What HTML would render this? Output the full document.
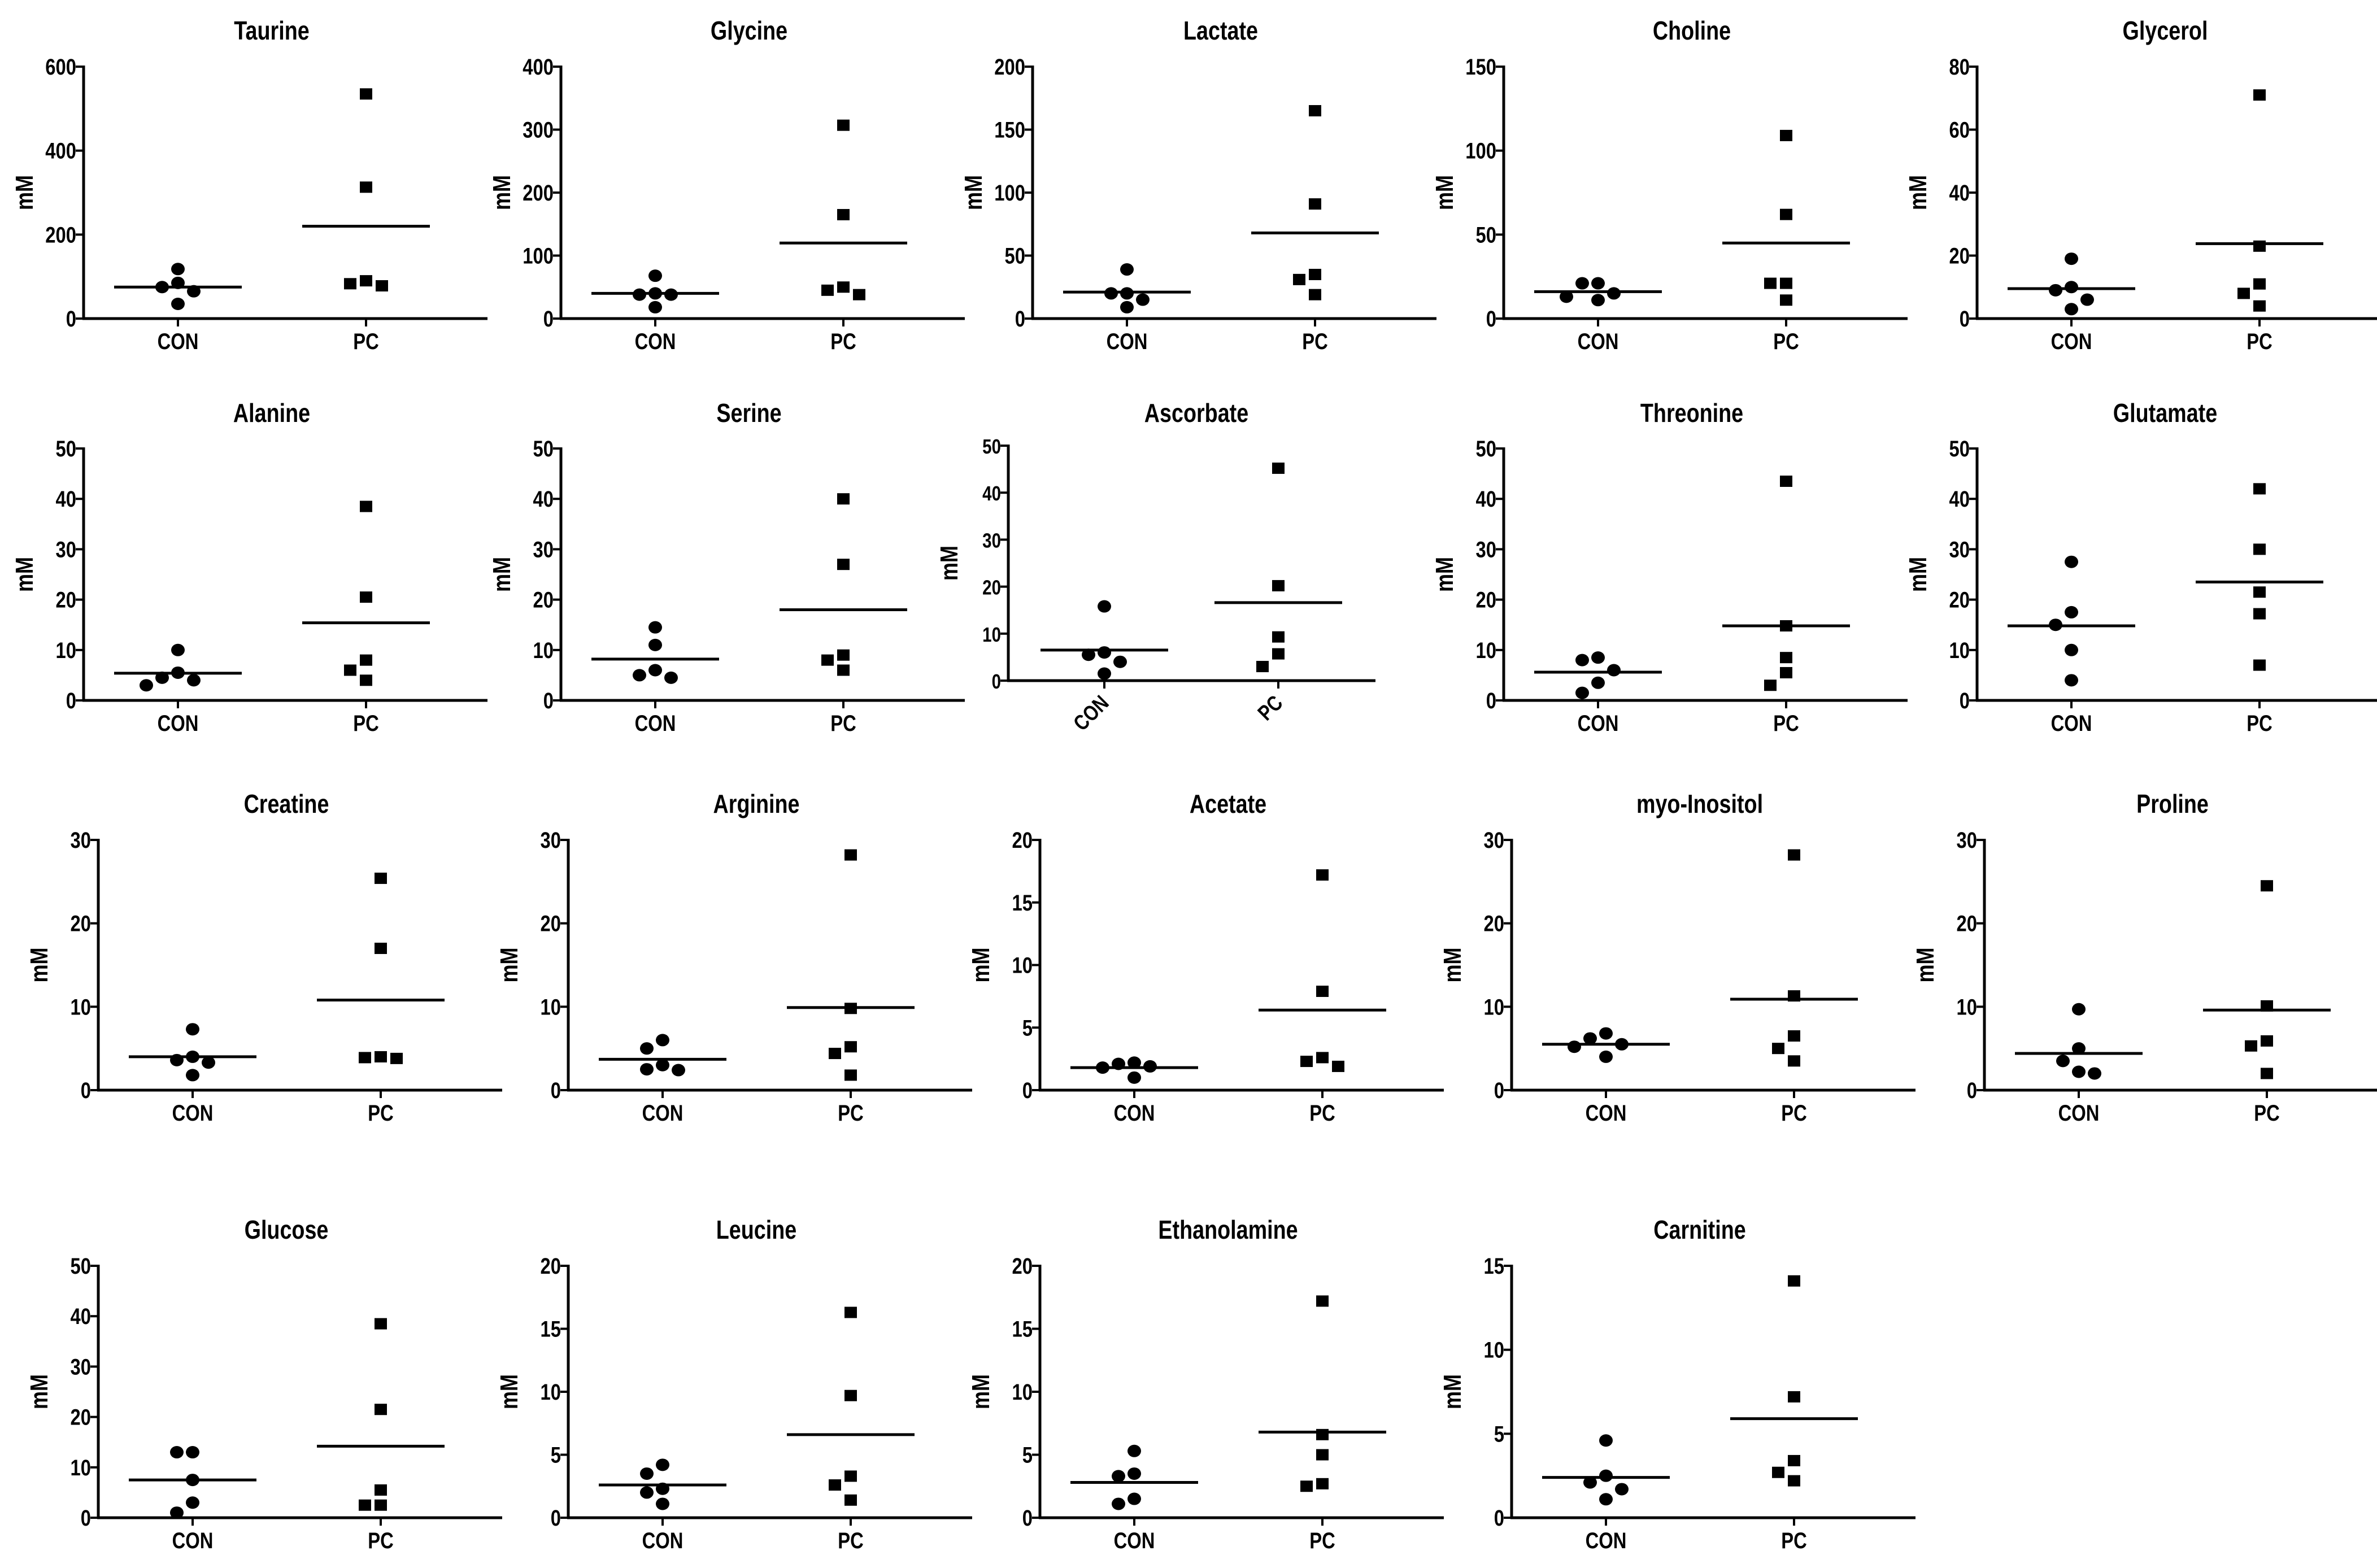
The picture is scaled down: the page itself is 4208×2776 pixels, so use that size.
<!DOCTYPE html>
<html><head><meta charset="utf-8"><style>
html,body{margin:0;padding:0;background:#fff;}
svg{display:block;font-family:"Liberation Sans",sans-serif;font-weight:bold;}
</style></head><body>
<svg id="fig" width="4208" height="2776" viewBox="0 0 4208 2776"></svg>
<script>
const titles=["Taurine","Glycine","Lactate","Choline","Glycerol","Alanine","Serine","Ascorbate","Threonine","Glutamate","Creatine","Arginine","Acetate","myo-Inositol","Proline","Glucose","Leucine","Ethanolamine","Carnitine"];
const yMax=[600,400,200,150,80,50,50,50,50,50,30,30,20,30,30,50,20,20,15];
const yStep=[200,100,50,50,20,10,10,10,10,10,10,10,5,10,10,10,5,5,5];
const groups=["CON","PC"];
const conValues=[[118,85,75,65,35],[68,38,38,40,18],[39,20,15,20,9],[21,21,15,11,13],[19,10,9,6,3],
[10,5.5,4,4.5,3],[14.5,11,6,5,4.5],[15.8,6,5.5,4,1.5],[8.5,8,6,3.5,1.5],[27.5,17.5,15,10,4],
[7.3,4,3.6,3.3,1.8],[6,5,3,2.4,2.5],[2.2,2.1,1.8,1.9,1],[6.8,6.2,5.5,5.2,4],[9.7,5,3.5,2.2,2],
[13,13,7.5,3,1],[4.2,3.5,2.3,2,1.1],[5.3,3.5,3.3,1.5,1.1],[4.6,2.5,2.1,1.7,1.1]];
const pcValues=[[535,313,90,78,83],[307,165,50,38,45],[165,91,35,31,19],[109,62,21,21,11],[71,23,11,8,4],
[38.5,20.5,8,6,4],[40,27,9,8,6],[45.2,20.2,9.3,5.7,3],[43.5,14.8,8.5,5.5,3],[42,30,21.5,17.2,7],
[25.4,17,4,3.8,3.9],[28.2,9.8,5.2,4.4,1.8],[17.2,7.9,2.6,2.3,1.9],[28.2,11.3,6.5,5,3.5],[24.5,10.1,5.9,5.3,2],
[38.5,21.5,5.5,2.5,2.5],[16.3,9.7,3.3,2.6,1.4],[17.2,6.6,5,2.7,2.5],[14.1,7.2,3.4,2.7,2.2]];
const conMeans=[75,40,21,16,9.5,5.4,8.2,6.5,5.6,14.8,4,3.7,1.8,5.5,4.4,7.5,2.6,2.8,2.4];
const pcMeans=[220,120,68,45,23.8,15.4,18,16.6,14.8,23.5,10.8,9.9,6.4,10.9,9.6,14.2,6.6,6.8,5.9];

const NS="http://www.w3.org/2000/svg";
const svg=document.getElementById('fig');
const SX=0.82;
function mk(tag,attrs,parent){const e=document.createElementNS(NS,tag);for(const k in attrs)e.setAttribute(k,attrs[k]);(parent||svg).appendChild(e);return e;}
function txt(parent,x,y,str,size,anchor,rot){
  const t=mk('text',{transform:`translate(${x},${y})`+(rot?` rotate(${rot})`:'')+` scale(${SX},1)`,'text-anchor':anchor,'font-size':size},parent);
  t.textContent=str;return t;
}
const rowTop=[118,794,1487,2241],rowZero=[564,1240,1930,2687];
const colX12=[148,993,1828,2662,3500],colX34=[174,1006,1841,2676,3513];
const titleY=[70,747,1439,2193];

titles.forEach((t,i)=>{
  const row=Math.floor(i/5),col=i%5;
  let ax=(row<2?colX12:colX34)[col],top=rowTop[row],zero=rowZero[row];
  let len=715,conOff=167,pcOff=500,asc=false;
  if(t==="Ascorbate"){ax=1785;top=789;zero=1205;len=650;conOff=170;pcOff=478;asc=true;}
  const g=mk('g',{});
  
  
  const ys=v=>zero-(v/yMax[i])*(zero-top);
  const xs=k=>ax+(k===0?conOff:pcOff);
  const title=txt(g,ax+333,titleY[row],t,46,'middle');
  
  
  const yl=txt(g,ax-90,(top+zero)/2,"mM",44,'middle',-90);
  
  
  const yAx=mk('line',{x1:ax,y1:top-2,x2:ax,y2:zero+2,stroke:'#000','stroke-width':5},g);
  
  
  const xAx=mk('line',{x1:ax-2,y1:zero,x2:ax+len,y2:zero,stroke:'#000','stroke-width':5},g);
  
  
  for(let v=0;v<=yMax[i]+1e-9;v+=yStep[i]){
    const y=ys(v);
    const tk=mk('line',{x1:ax-14,y1:y,x2:ax,y2:y,stroke:'#000','stroke-width':4},g);
    
    
    const tl=txt(g,ax-13,y+14,String(v),asc?36:40,'end');
    
    
  }
  groups.forEach((gn,k)=>{
    const x=xs(k);
    const tk=mk('line',{x1:x,y1:zero,x2:x,y2:zero+14,stroke:'#000','stroke-width':4},g);
    
    
    let lab;
    if(asc){lab=txt(g,x+10,zero+42,gn,38,'end',-45);}
    else{lab=txt(g,x,zero+54,gn,40,'middle');}
    
    
    const vals=k===0?conValues[i]:pcValues[i];
    const mean=k===0?conMeans[i]:pcMeans[i];
    const ml=mk('line',{x1:x-113,y1:ys(mean),x2:x+113,y2:ys(mean),stroke:'#000','stroke-width':5},g);
    
    
    const placed=[];
    const order=vals.map((v,j)=>j).sort((a,b)=>vals[b]-vals[a]);
    const offs=[0,-1,1,-2,2];
    order.forEach(j=>{
      const y=ys(vals[j]);let o=0;
      for(const c of offs){if(!placed.some(p=>p.o===c&&Math.abs(p.y-y)<24)){o=c;break;}}
      placed.push({o,y});
      const px=x+o*28;
      let m;
      if(k===0)m=mk('ellipse',{cx:px,cy:y,rx:12,ry:11,fill:'#000'},g);
      else m=mk('rect',{x:px-11,y:y-10,width:22,height:20,fill:'#000'},g);
      
      
    });
  });
});
</script>
</body></html>
